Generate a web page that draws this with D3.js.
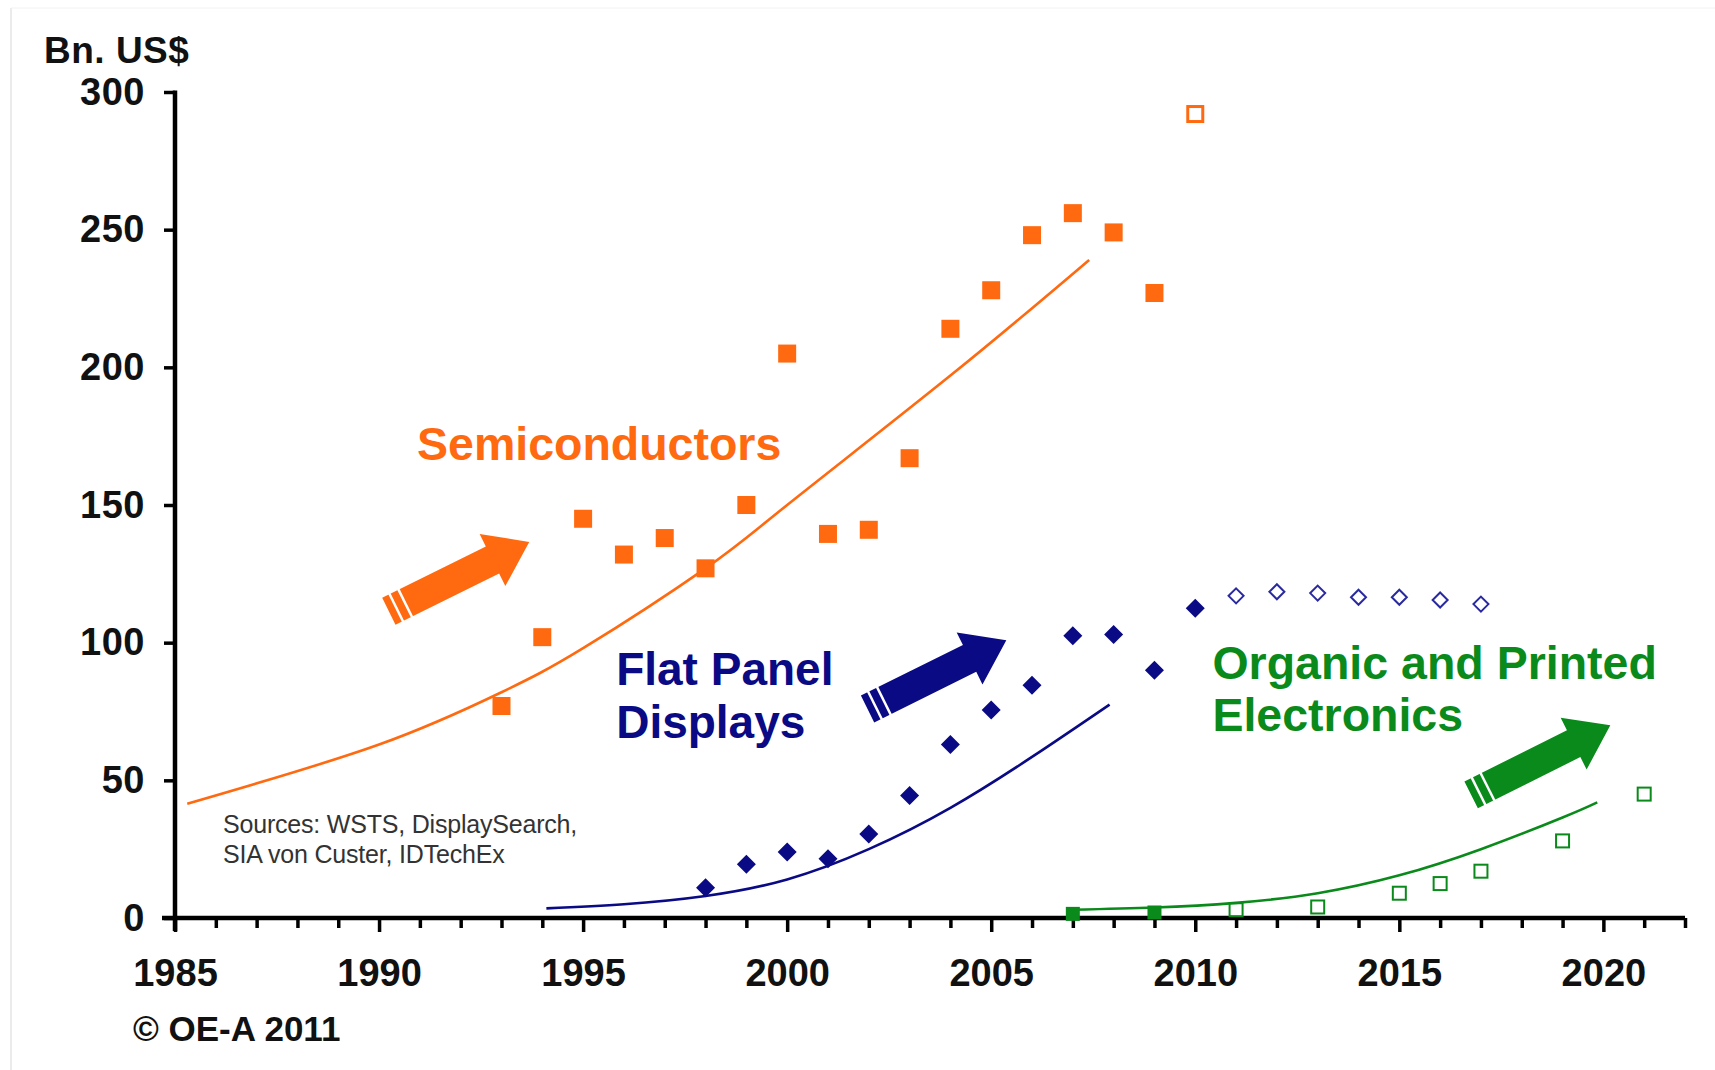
<!DOCTYPE html>
<html>
<head>
<meta charset="utf-8">
<script src="https://cdn.jsdelivr.net/npm/d3@7"></script>
<style>
  html, body { margin: 0; padding: 0; background: #fff; }
  svg { display: block; font-family: "Liberation Sans", Arial, Helvetica, sans-serif; }
</style>
</head>
<body>
<svg id="chart" width="1715" height="1070"></svg>
<script>
// ---- Market size, Bn. US$ ----
// Semiconductors (actuals + forecast)
const semiYears = [1993, 1994, 1995, 1996, 1997, 1998, 1999, 2000, 2001, 2002, 2003, 2004, 2005, 2006, 2007, 2008, 2009];
const semiValues = [77, 102, 145, 132, 138, 127, 150, 205, 139.5, 141, 167, 214, 228, 248, 256, 249, 227];
const semiForecastYears = [2010];
const semiForecastValues = [292];
const semiTrendYears = [1985.3, 1990, 1993, 1995, 1998, 2000, 2004, 2007.4];
const semiTrendValues = [41.5, 63, 82, 98, 127, 150, 197, 239];

// Flat panel displays
const fpdYears = [1998, 1999, 2000, 2001, 2002, 2003, 2004, 2005, 2006, 2007, 2008, 2009, 2010];
const fpdValues = [11, 19.5, 24, 21.5, 30.5, 44.5, 63, 75.5, 84.5, 102.5, 103, 90, 112.5];
const fpdForecastYears = [2011, 2012, 2013, 2014, 2015, 2016, 2017];
const fpdForecastValues = [117, 118.5, 118, 116.5, 116.5, 115.5, 114];
const fpdTrendYears = [1994.1, 1996, 1998, 2000, 2002, 2004, 2006, 2007.9];
const fpdTrendValues = [3.5, 5, 8, 14, 25, 40, 58.5, 77.5];

// Organic and printed electronics
const opeYears = [2007, 2009];
const opeValues = [1.5, 2];
const opeForecastYears = [2011, 2013, 2015, 2016, 2017, 2019, 2021];
const opeForecastValues = [3, 4, 9, 12.5, 17, 28, 45];
const opeTrendYears = [2007, 2009, 2011, 2013, 2015, 2017, 2019, 2019.85];
const opeTrendValues = [3, 3.8, 5.5, 9, 15.5, 25, 36.5, 42];

// Axis ticks
const yTickValues = [0, 50, 100, 150, 200, 250, 300];
const xLabelYears = [1985, 1990, 1995, 2000, 2005, 2010, 2015, 2020];

const ORANGE = "#ff6a10";
const NAVY = "#0a0a85";
const GREEN = "#0a8a1a";

const svg = d3.select("#chart");

const x = d3.scaleLinear().domain([1985, 2022]).range([175, 1685]);
const y = d3.scaleLinear().domain([0, 300]).range([918, 92]);

// faint frame on the left edge
svg.append("line").attr("x1", 11).attr("x2", 11).attr("y1", 8).attr("y2", 1070)
  .attr("stroke", "#e4e4e4").attr("stroke-width", 1.5);
svg.append("line").attr("x1", 11).attr("x2", 1715).attr("y1", 8).attr("y2", 8)
  .attr("stroke", "#f2f2f2").attr("stroke-width", 1);

// ---- Axes ----
const yAxis = d3.axisLeft(y).tickValues(yTickValues).tickSize(11).tickSizeOuter(0).tickPadding(19);
const gy = svg.append("g").attr("transform", `translate(${x(1985)},0)`).call(yAxis);
gy.select(".domain").remove();
gy.selectAll(".tick line").attr("stroke", "#000").attr("stroke-width", 3.5);
gy.selectAll(".tick text")
  .attr("fill", "#111").style("font-size", "38px").style("font-weight", "bold")
  .style("letter-spacing", "0.5px");

const xAxis = d3.axisBottom(x).tickValues(d3.range(1985, 2023)).tickSizeOuter(0)
  .tickFormat(d => xLabelYears.includes(d) ? String(d) : "");
const gx = svg.append("g").attr("transform", `translate(0,${y(0)})`).call(xAxis);
gx.select(".domain").remove();
gx.selectAll(".tick line")
  .attr("stroke", "#000").attr("stroke-width", 3.5)
  .attr("y2", d => d % 5 === 0 ? 14 : 10);
gx.selectAll(".tick text")
  .attr("y", 68).attr("dy", 0)
  .attr("fill", "#111").style("font-size", "38px").style("font-weight", "bold");

// axis lines (x axis runs past the origin on the left, y axis past it below)
svg.append("line").attr("x1", x(1985) - 13).attr("x2", x(2022)).attr("y1", y(0)).attr("y2", y(0))
  .attr("stroke", "#000").attr("stroke-width", 4.5);
svg.append("line").attr("x1", x(1985)).attr("x2", x(1985)).attr("y1", y(300) - 1.5).attr("y2", y(0) + 13)
  .attr("stroke", "#000").attr("stroke-width", 4.5);

// ---- Trend lines ----
const line = d3.line().x(d => x(d[0])).y(d => y(d[1])).curve(d3.curveNatural);
function trend(years, values, color) {
  svg.append("path").datum(d3.zip(years, values)).attr("d", line)
    .attr("fill", "none").attr("stroke", color).attr("stroke-width", 2.6);
}
trend(semiTrendYears, semiTrendValues, ORANGE);
trend(fpdTrendYears, fpdTrendValues, NAVY);
trend(opeTrendYears, opeTrendValues, GREEN);

// ---- Markers ----
function squares(years, values, size, color, hollow, sw) {
  svg.append("g").selectAll("rect").data(d3.zip(years, values)).join("rect")
    .attr("x", d => x(d[0]) - size / 2).attr("y", d => y(d[1]) - size / 2)
    .attr("width", size).attr("height", size)
    .attr("fill", hollow ? "none" : color)
    .attr("stroke", hollow ? color : "none")
    .attr("stroke-width", hollow ? sw : 0);
}
function diamonds(years, values, r, color, hollow, sw) {
  svg.append("g").selectAll("path").data(d3.zip(years, values)).join("path")
    .attr("d", d => {
      const cx = x(d[0]), cy = y(d[1]);
      return `M${cx},${cy - r}L${cx + r},${cy}L${cx},${cy + r}L${cx - r},${cy}Z`;
    })
    .attr("fill", hollow ? "none" : color)
    .attr("stroke", hollow ? color : "none")
    .attr("stroke-width", hollow ? sw : 0);
}

squares(semiYears, semiValues, 18, ORANGE, false);
squares(semiForecastYears, semiForecastValues, 15, ORANGE, true, 3);
diamonds(fpdYears, fpdValues, 9.5, NAVY, false);
diamonds(fpdForecastYears, fpdForecastValues, 7.5, "#2a2aa0", true, 2);
squares(opeYears, opeValues, 14, GREEN, false);
squares(opeForecastYears, opeForecastValues, 13, GREEN, true, 2);

// ---- Block arrows (anchored in data units: tail centre -> tip) ----
const arrows = [
  { tail: [1990.24, 111.4], tip: [1993.68, 136.6], color: ORANGE },
  { tail: [2001.97, 75.9], tip: [2005.37, 100.9], color: NAVY },
  { tail: [2016.76, 44.7], tip: [2020.17, 70.0], color: GREEN }
];
arrows.forEach(a => {
  const tx = x(a.tail[0]), ty = y(a.tail[1]);
  const px = x(a.tip[0]), py = y(a.tip[1]);
  const L = Math.hypot(px - tx, py - ty);
  const ang = Math.atan2(py - ty, px - tx) * 180 / Math.PI;
  const w = 30, hw = 58, hl = 41;
  const g = svg.append("g").attr("transform", `translate(${tx},${ty}) rotate(${ang})`);
  g.append("path")
    .attr("d", `M0,${-w / 2}L${L - hl},${-w / 2}L${L - hl},${-hw / 2}L${L},0L${L - hl},${hw / 2}L${L - hl},${w / 2}L0,${w / 2}Z`)
    .attr("fill", a.color);
  [7, 17].forEach(s => {
    g.append("rect").attr("x", s).attr("y", -w / 2 - 1).attr("width", 2.5).attr("height", w + 2)
      .attr("fill", "#fff");
  });
});

// ---- Labels ----
function label(lines, yr, val, color, size, lineGap) {
  const t = svg.append("text").attr("x", x(yr)).attr("y", y(val))
    .attr("fill", color).style("font-size", size + "px").style("font-weight", "bold");
  lines.forEach((s, i) => {
    t.append("tspan").attr("x", x(yr)).attr("dy", i === 0 ? 0 : lineGap).text(s);
  });
}
label(["Semiconductors"], 1990.93, 166.5, ORANGE, 46.5, 0);
label(["Flat Panel", "Displays"], 1995.81, 84.6, NAVY, 46, 53);
label(["Organic and Printed", "Electronics"], 2010.42, 86.8, GREEN, 46.5, 52);

// unit label
svg.append("text").attr("x", 44).attr("y", 63).text("Bn. US$")
  .attr("fill", "#111").style("font-size", "37px").style("font-weight", "bold")
  .style("letter-spacing", "0.5px");

// sources note
const src = svg.append("text").attr("x", 223).attr("y", 833)
  .attr("fill", "#333").style("font-size", "25px").style("letter-spacing", "-0.2px");
src.append("tspan").attr("x", 223).attr("dy", 0).text("Sources: WSTS, DisplaySearch,");
src.append("tspan").attr("x", 223).attr("dy", 30).text("SIA von Custer, IDTechEx");

// copyright
svg.append("text").attr("x", 133).attr("y", 1041).text("© OE-A 2011")
  .attr("fill", "#111").style("font-size", "35px").style("font-weight", "bold");
</script>
</body>
</html>
